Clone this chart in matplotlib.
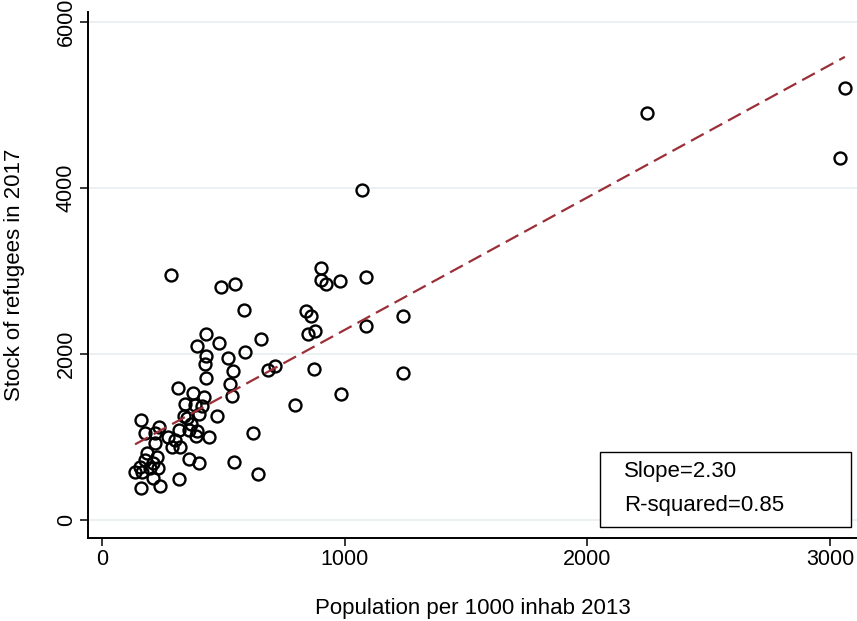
import numpy as np
from matplotlib import pyplot as plt
from matplotlib.patches import Rectangle

# population per 1000 inhab 2013 (x) and stock of refugees 2017 (y)
pop_2013 = [2245, 3061, 3041, 1071, 284, 490, 548, 585, 902, 902,
            923, 981, 1088, 840, 861, 849, 878, 1088, 1240, 873,
            1240, 985, 713, 684, 795, 622, 544, 643, 428, 391,
            482, 655, 589, 428, 519, 424, 540, 428, 527, 313,
            375, 420, 536, 342, 383, 412, 400, 338, 350, 474,
            161, 235, 367, 317, 358, 391, 441, 387, 218, 177,
            218, 272, 301, 321, 288, 358, 400, 317, 161, 239,
            185, 227, 177, 210, 157, 198, 231, 136, 165, 210]
refugees_2017 = [4904, 5206, 4362, 3977, 2952, 2808, 2844, 2531, 3037, 2892,
                 2844, 2880, 2928, 2518, 2458, 2241, 2277, 2338, 2458, 1820,
                 1771, 1518, 1856, 1808, 1386, 1048, 699, 554, 2241, 2097,
                 2133, 2181, 2024, 1976, 1952, 1880, 1795, 1711, 1639, 1591,
                 1530, 1482, 1494, 1398, 1386, 1374, 1277, 1253, 1229, 1253,
                 1205, 1121, 1157, 1085, 1085, 1072, 1000, 1012, 1048, 1048,
                 928, 1000, 964, 880, 880, 735, 687, 494, 386, 410,
                 807, 759, 723, 687, 639, 627, 627, 578, 578, 506]

# fitted line as drawn
fit_intercept = 695
fit_slope = 1.596
slope_label = "Slope=2.30"
r2_label = "R-squared=0.85"

plt.rcParams['font.family'] = ['Liberation Sans', 'DejaVu Sans']

fig = plt.figure(figsize=(8.57, 6.21), dpi=100)
ax = fig.add_axes([0.1027, 0.1336, 0.8973, 0.8471])

ax.set_xlim(-58, 3111)
ax.set_ylim(-217, 6121)

ax.set_yticks([0, 2000, 4000, 6000])
ax.set_xticks([0, 1000, 2000, 3000])
ax.grid(axis='y', color='#e9f0f2', linewidth=1.3)
ax.set_axisbelow(True)

ax.plot(pop_2013, refugees_2017, linestyle='none', marker='o', markersize=8.6,
        markerfacecolor='none', markeredgecolor='black', markeredgewidth=1.7)

x_line = np.array([min(pop_2013), max(pop_2013)])
ax.plot(x_line, fit_intercept + fit_slope * x_line, color='#9b2f38',
        linewidth=1.6, dashes=(6.5, 3))

for s in ['top', 'right']:
    ax.spines[s].set_visible(False)
for s in ['left', 'bottom']:
    ax.spines[s].set_linewidth(1.4)

ax.tick_params(axis='both', direction='out', length=6, width=1.1, labelsize=15.5, pad=2)
plt.setp(ax.get_yticklabels(), rotation=90, va='center')

ax.set_xlabel("Population per 1000 inhab 2013", fontsize=16, labelpad=20)
ax.set_ylabel("Stock of refugees in 2017", fontsize=16, labelpad=22)

ax.add_patch(Rectangle((0.666, 0.021), 0.326, 0.1425, transform=ax.transAxes,
                       facecolor='white', edgecolor='black', linewidth=1.0, zorder=5))
ax.text(0.697, 0.1274, slope_label, transform=ax.transAxes, fontsize=16, va='center', zorder=6)
ax.text(0.697, 0.0627, r2_label, transform=ax.transAxes, fontsize=16, va='center', zorder=6)

plt.savefig("out.png")
plt.close()
